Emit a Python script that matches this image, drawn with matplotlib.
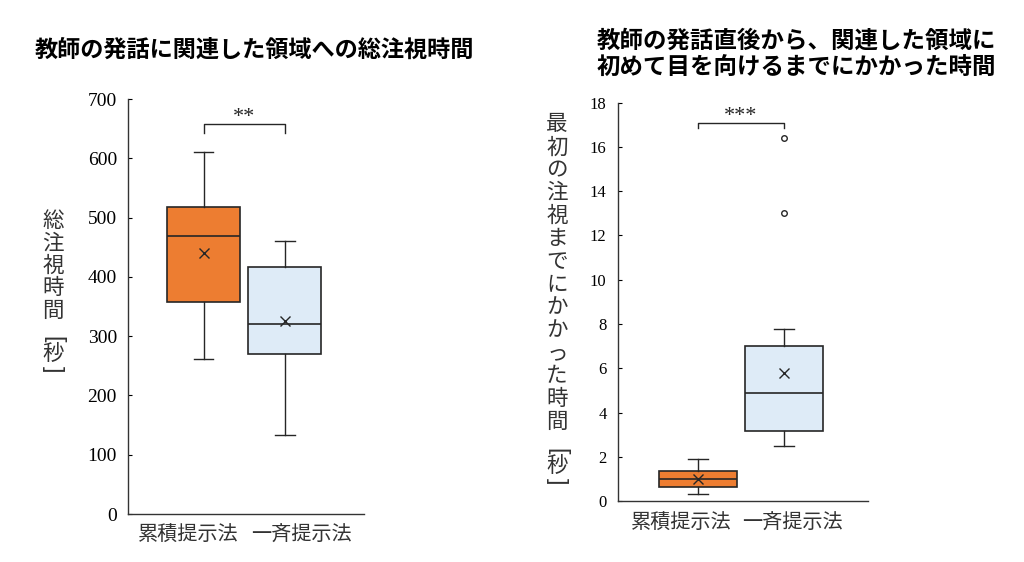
import matplotlib
matplotlib.use("Agg")
import matplotlib.pyplot as plt
from matplotlib.transforms import offset_copy

plt.rcParams['font.family'] = ['Noto Sans CJK JP', 'DejaVu Sans']

# ---- data ----
groups = ["累積提示法", "一斉提示法"]

# Chart 1: total gaze time [s]
t1_whislo = [262, 133]
t1_q1 = [357, 270]
t1_med = [469, 320]
t1_q3 = [518, 417]
t1_whishi = [610, 461]
t1_mean = [441, 325]
t1_fliers = [[], []]

# Chart 2: time to first gaze [s]
t2_whislo = [0.30, 2.50]
t2_q1 = [0.62, 3.16]
t2_med = [0.98, 4.89]
t2_q3 = [1.34, 6.99]
t2_whishi = [1.91, 7.76]
t2_mean = [1.01, 5.77]
t2_fliers = [[], [13.0, 16.42]]

title1 = "教師の発話に関連した領域への総注視時間"
title2 = "教師の発話直後から、関連した領域に\n初めて目を向けるまでにかかった時間"
ylabel1 = "総注視時間"
ylabel2 = "最初の注視までにかかった時間"
unit = "秒"
sig1 = "**"
sig2 = "***"

ORANGE = "#ED7D31"
BLUE = "#DEEBF7"
EDGE = "#262626"
TXT = "#333333"

W, H = 1024, 562


def make_stats(whislo, q1, med, q3, whishi, mean, fliers):
    return [dict(whislo=a, q1=b, med=c, q3=d, whishi=e, mean=f, fliers=g, label=l)
            for a, b, c, d, e, f, g, l in zip(whislo, q1, med, q3, whishi, mean, fliers, groups)]


def draw(fig, ax, stats, ylim, yticks, fs_tick, label_x, label_dy):
    bp = ax.bxp(stats, positions=[1, 2], widths=0.9, patch_artist=True, showmeans=True,
                showfliers=True, capwidths=0.24,
                boxprops=dict(edgecolor=EDGE, linewidth=1.2),
                medianprops=dict(color=EDGE, linewidth=1.2),
                whiskerprops=dict(color=EDGE, linewidth=1.0),
                capprops=dict(color=EDGE, linewidth=1.0),
                meanprops=dict(marker='x', markeredgecolor=EDGE, markersize=7, markeredgewidth=1.0),
                flierprops=dict(marker='o', markerfacecolor='white', markeredgecolor=EDGE,
                                markersize=4, markeredgewidth=1.0))
    for patch, c in zip(bp['boxes'], [ORANGE, BLUE]):
        patch.set_facecolor(c)
    ax.set_xlim(0.067, 2.975)
    ax.set_ylim(*ylim)
    ax.set_yticks(yticks)
    ax.set_yticklabels([str(v) for v in yticks], family='Liberation Serif', fontsize=fs_tick)
    ax.tick_params(axis='y', direction='in', length=3, width=0.8, pad=8)
    ax.set_xticks([])
    tr = offset_copy(ax.transAxes, fig=fig, x=0, y=-label_dy, units='dots')
    for lx, g in zip(label_x, groups):
        ax.text(lx, 0, g, transform=tr, ha='center', va='center', fontsize=14.5, color=TXT)
    for s in ['top', 'right']:
        ax.spines[s].set_visible(False)
    for s in ['left', 'bottom']:
        ax.spines[s].set_linewidth(1.0)
        ax.spines[s].set_color(TXT)


def bracket(ax, y0, y1, text, dy):
    ax.plot([1, 1, 2, 2], [y0, y1, y1, y0], color=EDGE, linewidth=1.0, clip_on=False)
    ax.text(1.5, y1 + dy, text, ha='center', va='bottom', fontsize=16,
            family='Liberation Serif', color=EDGE)


def vlabel(fig, xpx, y0px, pitch, text, yunitpx, fs=15.5):
    x = xpx / W
    for i, ch in enumerate(text):
        fig.text(x, 1 - (y0px + i * pitch) / H, ch, ha='center', va='center',
                 fontsize=fs, color=TXT)
    fig.text(x, 1 - yunitpx / H, unit, ha='center', va='center', fontsize=fs, color=TXT)
    fig.text(x, 1 - (yunitpx - 15) / H, "[", ha='center', va='center', fontsize=17,
             color=TXT, rotation=-90, family='Liberation Sans')
    fig.text(x, 1 - (yunitpx + 15) / H, "]", ha='center', va='center', fontsize=17,
             color=TXT, rotation=-90, family='Liberation Sans')


fig = plt.figure(figsize=(10.24, 5.62), dpi=100)

ax1 = fig.add_axes([0.125, 0.0854, 0.2305, 0.7384])
draw(fig, ax1, make_stats(t1_whislo, t1_q1, t1_med, t1_q3, t1_whishi, t1_mean, t1_fliers),
     (0, 700), list(range(0, 701, 100)), 14, [0.254, 0.733], 21)
bracket(ax1, 643, 658, sig1, -6)

ax2 = fig.add_axes([0.6032, 0.1085, 0.2442, 0.7088])
draw(fig, ax2, make_stats(t2_whislo, t2_q1, t2_med, t2_q3, t2_whishi, t2_mean, t2_fliers),
     (0, 18), list(range(0, 19, 2)), 12, [0.255, 0.699], 22)
bracket(ax2, 16.84, 17.1, sig2, -0.15)

fig.text(254 / W, 1 - 50 / H, title1, ha='center', va='center', fontsize=16.7,
         fontweight='bold')
fig.text(796 / W, 1 - 54 / H, title2, ha='center', va='center', fontsize=16.9,
         fontweight='bold', linespacing=1.12)

vlabel(fig, 53, 221, 22.4, ylabel1, 354)
vlabel(fig, 557, 124.4, 22.9, ylabel2, 466)

fig.savefig("out.png", dpi=100, facecolor='white')
